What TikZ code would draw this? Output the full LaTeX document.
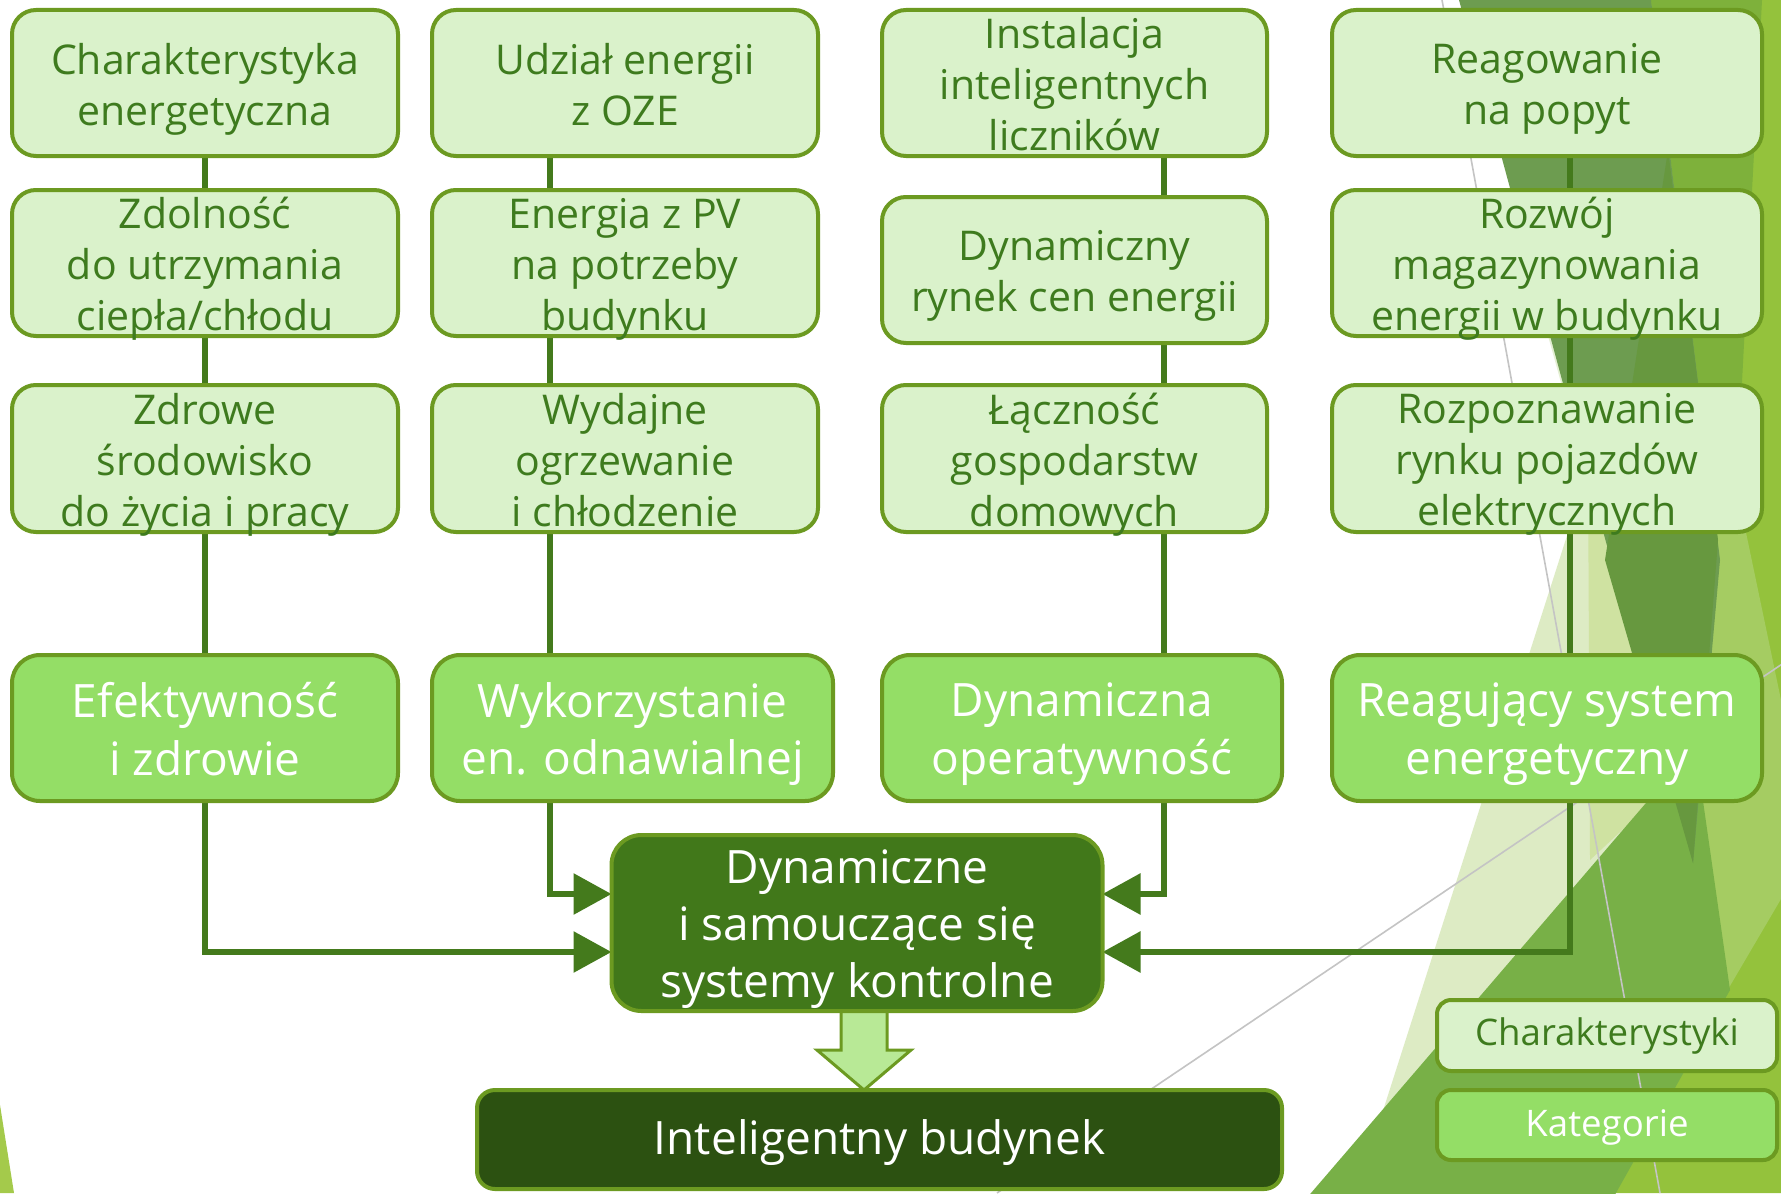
\documentclass[tikz,border=0pt]{standalone}
\usepackage{fontspec}
\setmainfont{Open Sans}
\usetikzlibrary{arrows.meta}
\pgfdeclarelayer{bg}
\pgfdeclarelayer{conn}
\pgfsetlayers{bg,conn,main}
\definecolor{lfill}{HTML}{DAF2CB}
\definecolor{kfill}{HTML}{94DE66}
\definecolor{bord}{HTML}{6C9A21}
\definecolor{tgreen}{HTML}{3E7B1E}
\definecolor{cgreen}{HTML}{447A1C}
\definecolor{ctlfill}{HTML}{41781A}
\definecolor{ibfill}{HTML}{2C5111}
\definecolor{afill}{HTML}{B8E996}
\definecolor{lime}{HTML}{94C23C}
\definecolor{brightg}{HTML}{7EB13B}
\definecolor{lightg}{HTML}{A5CC62}
\definecolor{paleg}{HTML}{DDEBC4}
\definecolor{pales}{HTML}{E4EFD3}
\definecolor{midl}{HTML}{CFE2A1}
\definecolor{medg}{HTML}{78B047}
\definecolor{olive}{HTML}{6D9C50}
\definecolor{darkg}{HTML}{67983F}
\definecolor{grayl}{HTML}{C4C4C4}
\definecolor{leftg}{HTML}{A4CA4B}
\begin{document}
\begin{tikzpicture}[x=0.5pt,y=-0.5pt,
  box/.style={draw=bord,line width=2pt,inner sep=0pt,outer sep=0pt},
  lbox/.style={box,fill=lfill,rounded corners=12pt,minimum width=193pt,minimum height=73pt},
  kbox/.style={box,fill=kfill,rounded corners=14pt,minimum width=193pt,minimum height=73pt},
  ttxt/.style={align=center,inner sep=0pt,text=tgreen,font=\fontsize{20.5}{25.5}\selectfont,
    yshift=-3.6pt,execute at end node={\rule[-6.15pt]{0pt}{0pt}}},
  ktxt/.style={align=center,inner sep=0pt,text=white,font=\fontsize{23}{28.7}\selectfont,
    yshift=-3.8pt,execute at end node={\rule[-6.9pt]{0pt}{0pt}}},
  gtxt/.style={align=center,inner sep=0pt,font=\fontsize{18.3}{21}\selectfont,
    yshift=-1pt,execute at end node={\rule[-5.5pt]{0pt}{0pt}}},
  conn/.style={draw=cgreen,line width=3pt},
  arr/.style={conn,-{Triangle[length=19pt,width=20pt]}},
]
\useasboundingbox (0,0) rectangle (1781,1193);

% ---------- background decoration ----------
\begin{pgfonlayer}{bg}
\fill[white] (0,0) rectangle (1781,1193);
\begin{scope}
\clip (0,0) rectangle (1781,1193);
\fill[lime] (1640,0) -- (1781,0) -- (1781,1193) -- (1590,1193) -- cycle;
\fill[brightg] (1651,0) -- (1762,0) -- (1740,420) -- (1720,560) -- cycle;
\fill[lightg] (1718,480) -- (1735,480) -- (1781,700) -- (1781,899) -- (1727,991) -- (1693,863) -- cycle;
\fill[pales] (1527,260) -- (1640,480) -- (1588,480) -- cycle;
\fill[paleg] (1588,470) -- (1705,760) -- (1380,1120) -- cycle;
\fill[midl] (1588,470) -- (1625,520) -- (1665,790) -- (1590,860) -- cycle;
\fill[medg] (1305,1200) -- (1670,775) -- (1700,780) -- (1730,990) -- (1612,1200) -- cycle;
\fill[olive] (1459,0) -- (1651,0) -- (1720,560) -- (1693,863) -- cycle;
\fill[darkg] (1668,150) -- (1718,540) -- (1693,863) -- (1605,560) -- cycle;
\draw[grayl,line width=0.8pt] (1442,0) -- (1660,1193);
\draw[grayl,line width=0.8pt] (997,1193) -- (1800,652);
\fill[leftg] (0,1105) -- (14,1193) -- (0,1193) -- cycle;
\end{scope}
\end{pgfonlayer}

% ---------- column 1 ----------
\node[lbox] (c1a) at (205,83) {};
\node[ttxt] (t1a) at (c1a) {Charakterystyka\\energetyczna};
\node[lbox] (c1b) at (205,263) {};
\node[ttxt] (t1b) at (c1b) {Zdolność\\do utrzymania\\ciepła/chłodu};
\node[lbox,minimum height=73.5pt] (c1c) at (205,458.5) {};
\node[ttxt] (t1c) at (c1c) {Zdrowe\\środowisko\\do życia i pracy};
\node[kbox] (c1k) at (205,728) {};
\node[ktxt] (k1) at (c1k) {Efektywność\\i zdrowie};

% ---------- column 2 ----------
\node[lbox] (c2a) at (625,83) {};
\node[ttxt] (t2a) at (c2a) {Udział energii\\z OZE};
\node[lbox] (c2b) at (625,263) {};
\node[ttxt] (t2b) at (c2b) {Energia z PV\\na potrzeby\\budynku};
\node[lbox,minimum height=73.5pt] (c2c) at (625,458.5) {};
\node[ttxt] (t2c) at (c2c) {Wydajne\\ogrzewanie\\i chłodzenie};
\node[kbox,minimum width=200.5pt] (c2k) at (632.5,728) {};
\node[ktxt] (k2) at (c2k) {Wykorzystanie\\en. odnawialnej};

% ---------- column 3 ----------
\node[lbox,minimum width=192.5pt] (c3a) at (1074.5,83) {};
\node[ttxt] (t3a) at (c3a) {Instalacja\\inteligentnych\\liczników};
\node[lbox,minimum width=192.5pt] (c3b) at (1074.5,270) {};
\node[ttxt] (t3b) at (c3b) {Dynamiczny\\rynek cen energii};
\node[lbox,minimum width=192.5pt,minimum height=73.5pt] (c3c) at (1074.5,458.5) {};
\node[ttxt] (t3c) at (c3c) {Łączność\\gospodarstw\\domowych};
\node[kbox,minimum width=200pt] (c3k) at (1082,728) {};
\node[ktxt] (k3) at (c3k) {Dynamiczna\\operatywność};

% ---------- column 4 ----------
\node[lbox,minimum width=215pt] (c4a) at (1547,83) {};
\node[ttxt] (t4a) at (c4a) {Reagowanie\\na popyt};
\node[lbox,minimum width=215pt] (c4b) at (1547,263) {};
\node[ttxt] (t4b) at (c4b) {Rozwój\\magazynowania\\energii w budynku};
\node[lbox,minimum width=215pt,minimum height=73.5pt] (c4c) at (1547,458.5) {};
\node[ttxt] (t4c) at (c4c) {Rozpoznawanie\\rynku pojazdów\\elektrycznych};
\node[kbox,minimum width=215pt] (c4k) at (1547,728) {};
\node[ktxt] (k4) at (c4k) {Reagujący system\\energetyczny};

% ---------- central and bottom ----------
\node[box,fill=ctlfill,rounded corners=15pt,minimum width=245.5pt,minimum height=88pt] (ctl) at (857,923) {};
\node[ktxt] (tctl) at (ctl) {Dynamiczne\\i samouczące się\\systemy kontrolne};
\node[box,fill=ibfill,rounded corners=9pt,minimum width=402.5pt,minimum height=49.5pt] (ib) at (879.5,1139.5) {};
\node[ktxt,yshift=1.5pt] (tib) at (ib) {Inteligentny budynek};

% ---------- legend ----------
\node[box,fill=lfill,rounded corners=7pt,minimum width=170pt,minimum height=35.5pt] (lg1) at (1607,1035.5) {};
\node[gtxt,text=tgreen] (tlg1) at (lg1) {Charakterystyki};
\node[box,fill=kfill,rounded corners=7pt,minimum width=170pt,minimum height=35pt] (lg2) at (1607,1125) {};
\node[gtxt,text=white,yshift=-0.8pt] (tlg2) at (lg2) {Kategorie};

% ---------- connectors ----------
\coordinate (v2) at (550,0);
\coordinate (v3) at (1164,0);
\coordinate (v4) at (1569.5,0);
\coordinate (ya) at (0,894);
\coordinate (yb) at (0,952);
\coordinate (bx) at (864,0);
\coordinate (hb) at (864,1050);
\coordinate (bs) at (ctl.south -| bx);
\begin{pgfonlayer}{conn}
\draw[conn] (c1a.south) -- (c1k.north);
\draw[conn] (c2a.south -| v2) -- (c2k.north -| v2);
\draw[conn] (c3a.south -| v3) -- (c3k.north -| v3);
\draw[conn] (c4a.south -| v4) -- (c4k.north -| v4);
\draw[arr] (c1k.south) |- (ctl.west |- yb);
\draw[arr] (c2k.south -| v2) |- (ctl.west |- ya);
\draw[arr] (c3k.south -| v3) |- (ctl.east |- ya);
\draw[arr] (c4k.south -| v4) |- (ctl.east |- yb);
\draw[draw=bord,fill=afill,line width=1.5pt,line join=miter]
  ([xshift=-11.5pt]bs) -- ([xshift=-11.5pt]hb) -- ([xshift=-23.5pt]hb)
  -- (ib.north -| bx) -- ([xshift=23.5pt]hb) -- ([xshift=11.5pt]hb) -- ([xshift=11.5pt]bs);
\end{pgfonlayer}
\end{tikzpicture}
\end{document}
